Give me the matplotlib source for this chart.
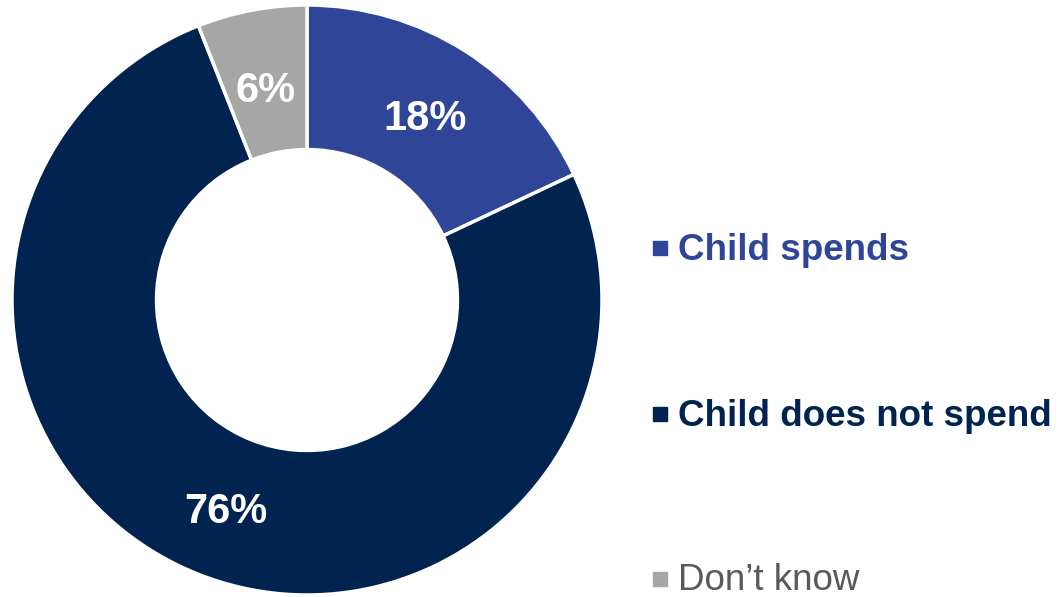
import matplotlib.pyplot as plt
from matplotlib.patches import Rectangle

plt.rcParams['font.family'] = ['Liberation Sans', 'DejaVu Sans']

# Share of responses (%)
categories = ['Child spends', 'Child does not spend', 'Don\u2019t know']
values = [18, 76, 6]
colors = ['#2E4598', '#002350', '#A6A6A6']
text_colors = ['#2E4598', '#002350', '#595959']
text_weights = ['bold', 'bold', 'normal']

W, H = 1058, 597
fig = plt.figure(figsize=(W / 100, H / 100), dpi=100)

# donut axes: centre at (307, 300) px, outer radius 295 px
cx, cy, r = 307, 300, 295
ax = fig.add_axes([(cx - r) / W, (H - cy - r) / H, 2 * r / W, 2 * r / H])

wedges, texts, autotexts = ax.pie(
    values, colors=colors, startangle=90, counterclock=False,
    radius=1, pctdistance=0.75,
    autopct=lambda p: f'{p:.0f}%',
    wedgeprops=dict(width=0.49, edgecolor='white', linewidth=2.5),
    textprops=dict(color='white', fontsize=30, fontweight='bold'))
ax.set_xlim(-1, 1)
ax.set_ylim(-1, 1)

# labels sit a touch lower (visual centring of digits)
for t in autotexts:
    x, y = t.get_position()
    t.set_position((x, y - 0.02))
# small slice label sits a bit closer to the top in the original
autotexts[2].set_position((-0.14, 0.71))

# legend drawn by hand
legend_y = [248, 414, 579]
for cat, col, tcol, wt, y in zip(categories, colors, text_colors, text_weights, legend_y):
    fig.patches.append(Rectangle((653 / W, (H - y - 7) / H), 14 / W, 14 / H,
                                 transform=fig.transFigure, color=col))
    fig.text(678 / W, (H - y - 2) / H, cat, color=tcol, fontsize=26.5,
             fontweight=wt, va='center', ha='left')

fig.savefig('out.png', dpi=100)
